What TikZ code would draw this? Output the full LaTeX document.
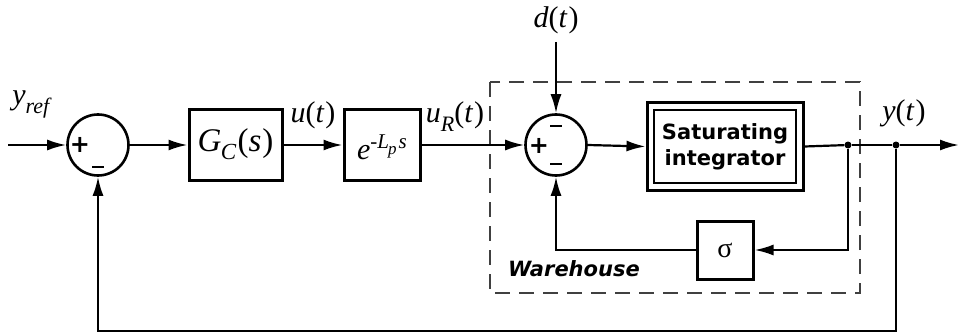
\documentclass[tikz,border=0pt]{standalone}
\usepackage{fontspec}
\setmainfont{Liberation Serif}
\newfontfamily\lblfont{DejaVu Sans}
\usetikzlibrary{arrows.meta,positioning}
\tikzset{
  blk/.style={draw, line width=3pt, rectangle, inner sep=0pt},
  sumc/.style={draw, line width=2.6pt, circle, minimum size=61pt, inner sep=0pt},
  wire/.style={line width=2.2pt},
  arr/.style={wire, -{Latex[length=19pt,width=11pt]}},
  dot/.style={circle, fill, minimum size=7pt, inner sep=0pt},
  lbl/.style={font=\fontsize{30}{32}\selectfont, inner sep=0pt},
  sgn/.style={font=\fontsize{24}{24}\selectfont\lblfont\bfseries, inner sep=0pt},
}
\newcommand{\iv}[1]{\textit{#1}}
\begin{document}
\begin{tikzpicture}[x=1pt,y=-1pt]
\useasboundingbox (0,0) rectangle (960,334);
% warehouse dashed box
\draw[line width=2pt, black!75, dash pattern=on 15pt off 9pt] (490,82) rectangle (860,293);
\node[font=\fontsize{21}{24}\selectfont\lblfont\bfseries\itshape, inner sep=0pt] (wh) at (574,269) {Warehouse};

\coordinate (in) at (8,145);
\node[sumc] (s1) at (98,145) {};
\node[blk, minimum width=93pt, minimum height=71pt] (gc) at (235.5,145) {};
\node[lbl, font=\fontsize{33}{34}\selectfont] at (235.5,144) {\iv{G}\kern-0.5pt\raisebox{-8pt}{\fontsize{23}{23}\selectfont\iv{C}}\kern1pt(\iv{s}\kern1pt)};
\node[blk, minimum width=76pt, minimum height=71pt] (dl) at (382,145) {};
\node[lbl] at (382,147) {\iv{e}\raisebox{11pt}{\fontsize{21}{21}\selectfont -\iv{L}\kern-1pt\raisebox{-6pt}{\fontsize{17}{17}\selectfont\iv{p}}\kern2pt\iv{s}}};
\node[sumc] (s2) at (556,145) {};
\node[draw, line width=3pt, minimum width=156pt, minimum height=87pt, inner sep=0pt] (sat) at (725,146.5) {};
\node[draw, line width=2pt, minimum width=142pt, minimum height=73pt, align=center, font=\fontsize{21}{26}\selectfont\lblfont\bfseries, inner sep=0pt] (sati) at (725,146.5) {Saturating\\integrator};
\node[blk, minimum width=56pt, minimum height=58pt, font=\fontsize{28}{28}\selectfont] (sig) at (725,250) {σ};
\node[dot] (b1) at (848,145) {};
\node[dot] (b2) at (896,145) {};
\coordinate (out) at (959,145);
\coordinate (dtop) at (556,42);
\coordinate (fb1) at (848,250);
\coordinate (fb2) at (556,250);
\coordinate (ob1) at (896,331);
\coordinate (ob2) at (98,331);

% signs
\node[sgn] at (80,145) {+};
\node[sgn] at (98,167) {\rule{12pt}{2.8pt}};
\node[sgn] at (539,146) {+};
\node[sgn] at (556,126) {\rule{12pt}{2.8pt}};
\node[sgn] at (556,164) {\rule{12pt}{2.8pt}};

% connectors
\draw[arr] (in) -- (s1.west);
\draw[arr] (s1.east) -- (gc.west);
\draw[arr] (gc.east) -- (dl.west);
\draw[arr] (dl.east) -- (s2.west);
\draw[arr] (dtop) -- (s2.north);
\draw[arr] (s2.east) -- (sat.west);
\draw[wire] (sat.east) -- (b1);
\draw[wire] (b1) -- (b2);
\draw[arr] (b2) -- (out);
\draw[arr] (b1) -- (fb1) -- (sig.east);
\draw[arr] (sig.west) -- (fb2) -- (s2.south);
\draw[arr] (b2) -- (ob1) -- (ob2) -- (s1.south);

% labels
\node[lbl] at (32,104) {\iv{y}\raisebox{-9pt}{\fontsize{22}{22}\selectfont\iv{ref}}};
\node[lbl] at (313,115) {\iv{u}(\iv{t}\kern1pt)};
\node[lbl] at (455,117) {\iv{u}\raisebox{-9pt}{\fontsize{22}{22}\selectfont\iv{R}}(\iv{t}\kern1pt)};
\node[lbl] at (556,20) {\iv{d}(\iv{t}\kern1pt)};
\node[lbl] at (904,113) {\iv{y}(\iv{t}\kern1pt)};
\end{tikzpicture}
\end{document}
